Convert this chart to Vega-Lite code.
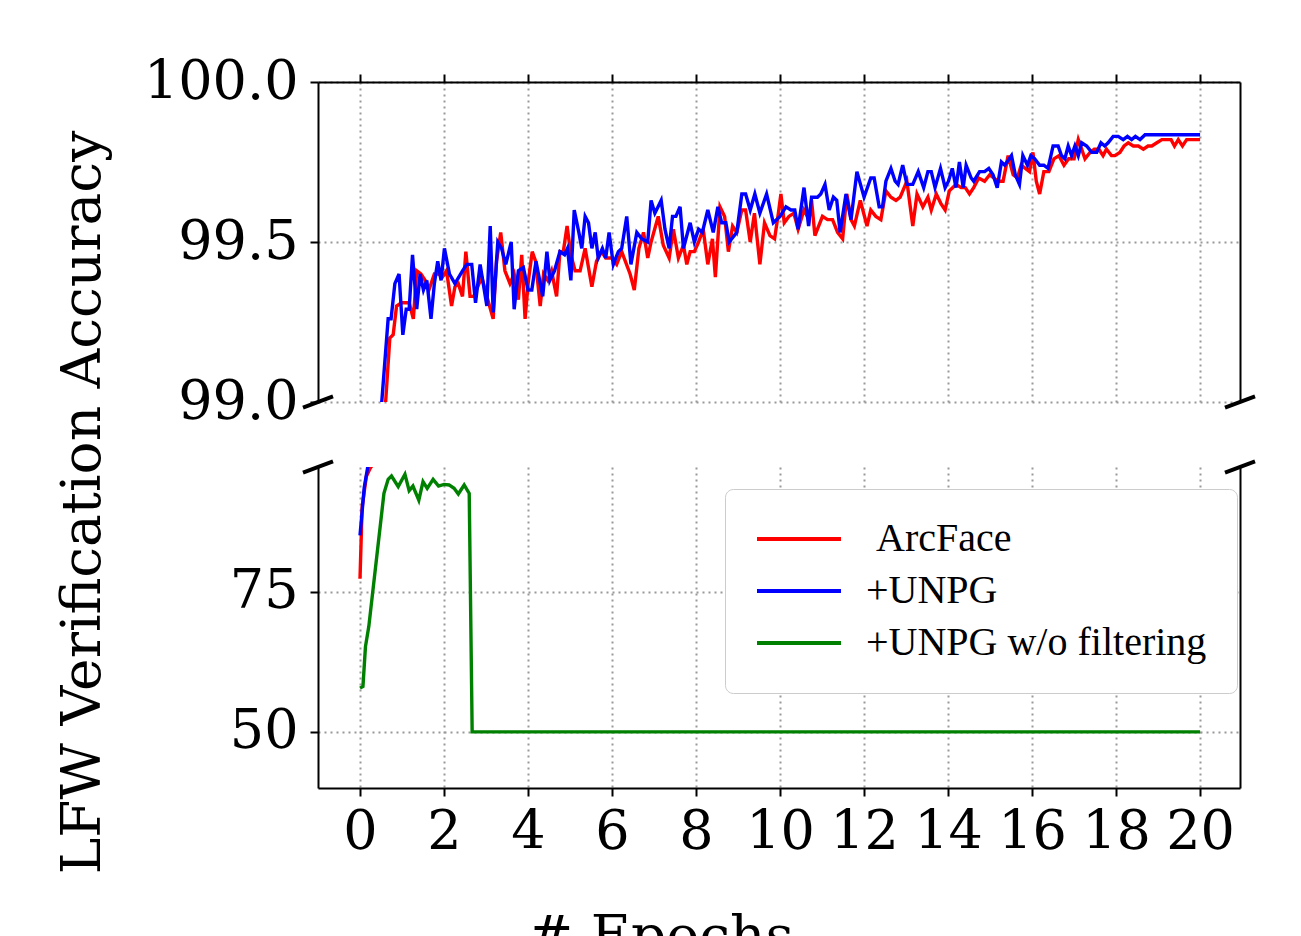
{
  "$schema": "https://vega.github.io/schema/vega-lite/v6.json",
  "autosize": {"type": "none"},
  "padding": {"left": 318, "top": 82, "right": 983, "bottom": 854},
  "background": "white",
  "bounds": "flush",
  "spacing": 65,
  "datasets": {
    "acc": [
      {"epoch": 0, "acc": 77.3, "series": "ArcFace"},
      {"epoch": 0.05, "acc": 90.0, "series": "ArcFace"},
      {"epoch": 0.15, "acc": 95.5, "series": "ArcFace"},
      {"epoch": 0.25, "acc": 97.1, "series": "ArcFace"},
      {"epoch": 0.35, "acc": 98.0, "series": "ArcFace"},
      {"epoch": 0.5, "acc": 98.85, "series": "ArcFace"},
      {"epoch": 0.6, "acc": 98.98, "series": "ArcFace"},
      {"epoch": 0.71, "acc": 99.20, "series": "ArcFace"},
      {"epoch": 0.79, "acc": 99.21, "series": "ArcFace"},
      {"epoch": 0.87, "acc": 99.30, "series": "ArcFace"},
      {"epoch": 0.99, "acc": 99.31, "series": "ArcFace"},
      {"epoch": 1.07, "acc": 99.31, "series": "ArcFace"},
      {"epoch": 1.17, "acc": 99.31, "series": "ArcFace"},
      {"epoch": 1.27, "acc": 99.26, "series": "ArcFace"},
      {"epoch": 1.35, "acc": 99.41, "series": "ArcFace"},
      {"epoch": 1.45, "acc": 99.40, "series": "ArcFace"},
      {"epoch": 1.55, "acc": 99.38, "series": "ArcFace"},
      {"epoch": 1.64, "acc": 99.35, "series": "ArcFace"},
      {"epoch": 1.77, "acc": 99.40, "series": "ArcFace"},
      {"epoch": 1.87, "acc": 99.40, "series": "ArcFace"},
      {"epoch": 1.96, "acc": 99.39, "series": "ArcFace"},
      {"epoch": 2.06, "acc": 99.41, "series": "ArcFace"},
      {"epoch": 2.18, "acc": 99.30, "series": "ArcFace"},
      {"epoch": 2.26, "acc": 99.36, "series": "ArcFace"},
      {"epoch": 2.34, "acc": 99.37, "series": "ArcFace"},
      {"epoch": 2.44, "acc": 99.33, "series": "ArcFace"},
      {"epoch": 2.52, "acc": 99.47, "series": "ArcFace"},
      {"epoch": 2.62, "acc": 99.33, "series": "ArcFace"},
      {"epoch": 2.71, "acc": 99.33, "series": "ArcFace"},
      {"epoch": 2.80, "acc": 99.36, "series": "ArcFace"},
      {"epoch": 2.90, "acc": 99.39, "series": "ArcFace"},
      {"epoch": 3.02, "acc": 99.33, "series": "ArcFace"},
      {"epoch": 3.17, "acc": 99.26, "series": "ArcFace"},
      {"epoch": 3.25, "acc": 99.44, "series": "ArcFace"},
      {"epoch": 3.35, "acc": 99.53, "series": "ArcFace"},
      {"epoch": 3.45, "acc": 99.41, "series": "ArcFace"},
      {"epoch": 3.57, "acc": 99.37, "series": "ArcFace"},
      {"epoch": 3.67, "acc": 99.40, "series": "ArcFace"},
      {"epoch": 3.77, "acc": 99.32, "series": "ArcFace"},
      {"epoch": 3.85, "acc": 99.46, "series": "ArcFace"},
      {"epoch": 3.93, "acc": 99.26, "series": "ArcFace"},
      {"epoch": 4.01, "acc": 99.38, "series": "ArcFace"},
      {"epoch": 4.10, "acc": 99.47, "series": "ArcFace"},
      {"epoch": 4.18, "acc": 99.44, "series": "ArcFace"},
      {"epoch": 4.29, "acc": 99.30, "series": "ArcFace"},
      {"epoch": 4.37, "acc": 99.40, "series": "ArcFace"},
      {"epoch": 4.47, "acc": 99.38, "series": "ArcFace"},
      {"epoch": 4.56, "acc": 99.41, "series": "ArcFace"},
      {"epoch": 4.68, "acc": 99.33, "series": "ArcFace"},
      {"epoch": 4.76, "acc": 99.47, "series": "ArcFace"},
      {"epoch": 4.84, "acc": 99.47, "series": "ArcFace"},
      {"epoch": 4.93, "acc": 99.55, "series": "ArcFace"},
      {"epoch": 5.02, "acc": 99.46, "series": "ArcFace"},
      {"epoch": 5.12, "acc": 99.41, "series": "ArcFace"},
      {"epoch": 5.24, "acc": 99.41, "series": "ArcFace"},
      {"epoch": 5.36, "acc": 99.48, "series": "ArcFace"},
      {"epoch": 5.52, "acc": 99.36, "series": "ArcFace"},
      {"epoch": 5.63, "acc": 99.44, "series": "ArcFace"},
      {"epoch": 5.75, "acc": 99.47, "series": "ArcFace"},
      {"epoch": 5.85, "acc": 99.45, "series": "ArcFace"},
      {"epoch": 5.99, "acc": 99.45, "series": "ArcFace"},
      {"epoch": 6.11, "acc": 99.43, "series": "ArcFace"},
      {"epoch": 6.23, "acc": 99.47, "series": "ArcFace"},
      {"epoch": 6.43, "acc": 99.40, "series": "ArcFace"},
      {"epoch": 6.53, "acc": 99.35, "series": "ArcFace"},
      {"epoch": 6.64, "acc": 99.48, "series": "ArcFace"},
      {"epoch": 6.75, "acc": 99.53, "series": "ArcFace"},
      {"epoch": 6.85, "acc": 99.45, "series": "ArcFace"},
      {"epoch": 6.93, "acc": 99.50, "series": "ArcFace"},
      {"epoch": 7.10, "acc": 99.58, "series": "ArcFace"},
      {"epoch": 7.22, "acc": 99.49, "series": "ArcFace"},
      {"epoch": 7.36, "acc": 99.45, "series": "ArcFace"},
      {"epoch": 7.46, "acc": 99.54, "series": "ArcFace"},
      {"epoch": 7.58, "acc": 99.45, "series": "ArcFace"},
      {"epoch": 7.70, "acc": 99.49, "series": "ArcFace"},
      {"epoch": 7.78, "acc": 99.43, "series": "ArcFace"},
      {"epoch": 7.86, "acc": 99.47, "series": "ArcFace"},
      {"epoch": 7.96, "acc": 99.47, "series": "ArcFace"},
      {"epoch": 8.06, "acc": 99.50, "series": "ArcFace"},
      {"epoch": 8.17, "acc": 99.54, "series": "ArcFace"},
      {"epoch": 8.28, "acc": 99.43, "series": "ArcFace"},
      {"epoch": 8.39, "acc": 99.51, "series": "ArcFace"},
      {"epoch": 8.46, "acc": 99.39, "series": "ArcFace"},
      {"epoch": 8.57, "acc": 99.61, "series": "ArcFace"},
      {"epoch": 8.68, "acc": 99.58, "series": "ArcFace"},
      {"epoch": 8.77, "acc": 99.47, "series": "ArcFace"},
      {"epoch": 8.87, "acc": 99.55, "series": "ArcFace"},
      {"epoch": 8.97, "acc": 99.53, "series": "ArcFace"},
      {"epoch": 9.09, "acc": 99.60, "series": "ArcFace"},
      {"epoch": 9.18, "acc": 99.60, "series": "ArcFace"},
      {"epoch": 9.29, "acc": 99.50, "series": "ArcFace"},
      {"epoch": 9.39, "acc": 99.59, "series": "ArcFace"},
      {"epoch": 9.52, "acc": 99.43, "series": "ArcFace"},
      {"epoch": 9.63, "acc": 99.56, "series": "ArcFace"},
      {"epoch": 9.76, "acc": 99.52, "series": "ArcFace"},
      {"epoch": 9.87, "acc": 99.51, "series": "ArcFace"},
      {"epoch": 9.96, "acc": 99.59, "series": "ArcFace"},
      {"epoch": 10.02, "acc": 99.65, "series": "ArcFace"},
      {"epoch": 10.10, "acc": 99.56, "series": "ArcFace"},
      {"epoch": 10.21, "acc": 99.58, "series": "ArcFace"},
      {"epoch": 10.33, "acc": 99.59, "series": "ArcFace"},
      {"epoch": 10.43, "acc": 99.54, "series": "ArcFace"},
      {"epoch": 10.57, "acc": 99.60, "series": "ArcFace"},
      {"epoch": 10.69, "acc": 99.57, "series": "ArcFace"},
      {"epoch": 10.75, "acc": 99.63, "series": "ArcFace"},
      {"epoch": 10.83, "acc": 99.52, "series": "ArcFace"},
      {"epoch": 11.01, "acc": 99.58, "series": "ArcFace"},
      {"epoch": 11.13, "acc": 99.57, "series": "ArcFace"},
      {"epoch": 11.25, "acc": 99.57, "series": "ArcFace"},
      {"epoch": 11.37, "acc": 99.53, "series": "ArcFace"},
      {"epoch": 11.49, "acc": 99.51, "series": "ArcFace"},
      {"epoch": 11.59, "acc": 99.65, "series": "ArcFace"},
      {"epoch": 11.69, "acc": 99.57, "series": "ArcFace"},
      {"epoch": 11.77, "acc": 99.55, "series": "ArcFace"},
      {"epoch": 11.91, "acc": 99.63, "series": "ArcFace"},
      {"epoch": 12.07, "acc": 99.55, "series": "ArcFace"},
      {"epoch": 12.16, "acc": 99.60, "series": "ArcFace"},
      {"epoch": 12.28, "acc": 99.58, "series": "ArcFace"},
      {"epoch": 12.40, "acc": 99.57, "series": "ArcFace"},
      {"epoch": 12.52, "acc": 99.66, "series": "ArcFace"},
      {"epoch": 12.64, "acc": 99.64, "series": "ArcFace"},
      {"epoch": 12.76, "acc": 99.63, "series": "ArcFace"},
      {"epoch": 12.86, "acc": 99.64, "series": "ArcFace"},
      {"epoch": 13.02, "acc": 99.69, "series": "ArcFace"},
      {"epoch": 13.16, "acc": 99.55, "series": "ArcFace"},
      {"epoch": 13.26, "acc": 99.65, "series": "ArcFace"},
      {"epoch": 13.40, "acc": 99.61, "series": "ArcFace"},
      {"epoch": 13.52, "acc": 99.64, "series": "ArcFace"},
      {"epoch": 13.60, "acc": 99.60, "series": "ArcFace"},
      {"epoch": 13.72, "acc": 99.65, "series": "ArcFace"},
      {"epoch": 13.83, "acc": 99.62, "series": "ArcFace"},
      {"epoch": 13.93, "acc": 99.60, "series": "ArcFace"},
      {"epoch": 14.03, "acc": 99.66, "series": "ArcFace"},
      {"epoch": 14.19, "acc": 99.68, "series": "ArcFace"},
      {"epoch": 14.31, "acc": 99.67, "series": "ArcFace"},
      {"epoch": 14.41, "acc": 99.67, "series": "ArcFace"},
      {"epoch": 14.51, "acc": 99.65, "series": "ArcFace"},
      {"epoch": 14.61, "acc": 99.67, "series": "ArcFace"},
      {"epoch": 14.73, "acc": 99.70, "series": "ArcFace"},
      {"epoch": 14.87, "acc": 99.69, "series": "ArcFace"},
      {"epoch": 14.99, "acc": 99.71, "series": "ArcFace"},
      {"epoch": 15.09, "acc": 99.70, "series": "ArcFace"},
      {"epoch": 15.19, "acc": 99.69, "series": "ArcFace"},
      {"epoch": 15.31, "acc": 99.69, "series": "ArcFace"},
      {"epoch": 15.43, "acc": 99.77, "series": "ArcFace"},
      {"epoch": 15.55, "acc": 99.71, "series": "ArcFace"},
      {"epoch": 15.65, "acc": 99.70, "series": "ArcFace"},
      {"epoch": 15.74, "acc": 99.74, "series": "ArcFace"},
      {"epoch": 15.84, "acc": 99.73, "series": "ArcFace"},
      {"epoch": 15.94, "acc": 99.72, "series": "ArcFace"},
      {"epoch": 16.02, "acc": 99.78, "series": "ArcFace"},
      {"epoch": 16.10, "acc": 99.69, "series": "ArcFace"},
      {"epoch": 16.18, "acc": 99.65, "series": "ArcFace"},
      {"epoch": 16.28, "acc": 99.72, "series": "ArcFace"},
      {"epoch": 16.40, "acc": 99.72, "series": "ArcFace"},
      {"epoch": 16.52, "acc": 99.76, "series": "ArcFace"},
      {"epoch": 16.64, "acc": 99.77, "series": "ArcFace"},
      {"epoch": 16.76, "acc": 99.74, "series": "ArcFace"},
      {"epoch": 16.87, "acc": 99.76, "series": "ArcFace"},
      {"epoch": 17.00, "acc": 99.76, "series": "ArcFace"},
      {"epoch": 17.10, "acc": 99.82, "series": "ArcFace"},
      {"epoch": 17.26, "acc": 99.76, "series": "ArcFace"},
      {"epoch": 17.38, "acc": 99.78, "series": "ArcFace"},
      {"epoch": 17.48, "acc": 99.79, "series": "ArcFace"},
      {"epoch": 17.59, "acc": 99.79, "series": "ArcFace"},
      {"epoch": 17.69, "acc": 99.77, "series": "ArcFace"},
      {"epoch": 17.77, "acc": 99.79, "series": "ArcFace"},
      {"epoch": 17.89, "acc": 99.77, "series": "ArcFace"},
      {"epoch": 17.97, "acc": 99.77, "series": "ArcFace"},
      {"epoch": 18.09, "acc": 99.78, "series": "ArcFace"},
      {"epoch": 18.19, "acc": 99.80, "series": "ArcFace"},
      {"epoch": 18.29, "acc": 99.81, "series": "ArcFace"},
      {"epoch": 18.41, "acc": 99.80, "series": "ArcFace"},
      {"epoch": 18.53, "acc": 99.80, "series": "ArcFace"},
      {"epoch": 18.65, "acc": 99.79, "series": "ArcFace"},
      {"epoch": 18.76, "acc": 99.80, "series": "ArcFace"},
      {"epoch": 18.85, "acc": 99.80, "series": "ArcFace"},
      {"epoch": 18.97, "acc": 99.81, "series": "ArcFace"},
      {"epoch": 19.09, "acc": 99.82, "series": "ArcFace"},
      {"epoch": 19.21, "acc": 99.82, "series": "ArcFace"},
      {"epoch": 19.31, "acc": 99.82, "series": "ArcFace"},
      {"epoch": 19.39, "acc": 99.80, "series": "ArcFace"},
      {"epoch": 19.48, "acc": 99.82, "series": "ArcFace"},
      {"epoch": 19.58, "acc": 99.80, "series": "ArcFace"},
      {"epoch": 19.68, "acc": 99.82, "series": "ArcFace"},
      {"epoch": 19.80, "acc": 99.82, "series": "ArcFace"},
      {"epoch": 20.0, "acc": 99.82, "series": "ArcFace"},

      {"epoch": 0, "acc": 85.0, "series": "+UNPG"},
      {"epoch": 0.1, "acc": 93.5, "series": "+UNPG"},
      {"epoch": 0.2, "acc": 97.9, "series": "+UNPG"},
      {"epoch": 0.3, "acc": 98.5, "series": "+UNPG"},
      {"epoch": 0.4, "acc": 98.8, "series": "+UNPG"},
      {"epoch": 0.5, "acc": 98.97, "series": "+UNPG"},
      {"epoch": 0.67, "acc": 99.26, "series": "+UNPG"},
      {"epoch": 0.74, "acc": 99.26, "series": "+UNPG"},
      {"epoch": 0.83, "acc": 99.37, "series": "+UNPG"},
      {"epoch": 0.93, "acc": 99.40, "series": "+UNPG"},
      {"epoch": 1.02, "acc": 99.21, "series": "+UNPG"},
      {"epoch": 1.10, "acc": 99.29, "series": "+UNPG"},
      {"epoch": 1.17, "acc": 99.29, "series": "+UNPG"},
      {"epoch": 1.25, "acc": 99.46, "series": "+UNPG"},
      {"epoch": 1.35, "acc": 99.29, "series": "+UNPG"},
      {"epoch": 1.43, "acc": 99.40, "series": "+UNPG"},
      {"epoch": 1.51, "acc": 99.35, "series": "+UNPG"},
      {"epoch": 1.59, "acc": 99.38, "series": "+UNPG"},
      {"epoch": 1.69, "acc": 99.26, "series": "+UNPG"},
      {"epoch": 1.77, "acc": 99.37, "series": "+UNPG"},
      {"epoch": 1.85, "acc": 99.44, "series": "+UNPG"},
      {"epoch": 1.93, "acc": 99.38, "series": "+UNPG"},
      {"epoch": 2.01, "acc": 99.48, "series": "+UNPG"},
      {"epoch": 2.13, "acc": 99.40, "series": "+UNPG"},
      {"epoch": 2.26, "acc": 99.37, "series": "+UNPG"},
      {"epoch": 2.44, "acc": 99.41, "series": "+UNPG"},
      {"epoch": 2.54, "acc": 99.43, "series": "+UNPG"},
      {"epoch": 2.66, "acc": 99.43, "series": "+UNPG"},
      {"epoch": 2.75, "acc": 99.31, "series": "+UNPG"},
      {"epoch": 2.86, "acc": 99.43, "series": "+UNPG"},
      {"epoch": 3.02, "acc": 99.30, "series": "+UNPG"},
      {"epoch": 3.10, "acc": 99.55, "series": "+UNPG"},
      {"epoch": 3.17, "acc": 99.28, "series": "+UNPG"},
      {"epoch": 3.28, "acc": 99.50, "series": "+UNPG"},
      {"epoch": 3.37, "acc": 99.48, "series": "+UNPG"},
      {"epoch": 3.47, "acc": 99.43, "series": "+UNPG"},
      {"epoch": 3.60, "acc": 99.50, "series": "+UNPG"},
      {"epoch": 3.67, "acc": 99.29, "series": "+UNPG"},
      {"epoch": 3.77, "acc": 99.41, "series": "+UNPG"},
      {"epoch": 3.89, "acc": 99.42, "series": "+UNPG"},
      {"epoch": 4.00, "acc": 99.35, "series": "+UNPG"},
      {"epoch": 4.09, "acc": 99.35, "series": "+UNPG"},
      {"epoch": 4.19, "acc": 99.44, "series": "+UNPG"},
      {"epoch": 4.35, "acc": 99.33, "series": "+UNPG"},
      {"epoch": 4.45, "acc": 99.47, "series": "+UNPG"},
      {"epoch": 4.52, "acc": 99.38, "series": "+UNPG"},
      {"epoch": 4.63, "acc": 99.41, "series": "+UNPG"},
      {"epoch": 4.76, "acc": 99.47, "series": "+UNPG"},
      {"epoch": 4.87, "acc": 99.46, "series": "+UNPG"},
      {"epoch": 4.94, "acc": 99.48, "series": "+UNPG"},
      {"epoch": 5.02, "acc": 99.38, "series": "+UNPG"},
      {"epoch": 5.10, "acc": 99.60, "series": "+UNPG"},
      {"epoch": 5.21, "acc": 99.53, "series": "+UNPG"},
      {"epoch": 5.28, "acc": 99.48, "series": "+UNPG"},
      {"epoch": 5.36, "acc": 99.58, "series": "+UNPG"},
      {"epoch": 5.44, "acc": 99.56, "series": "+UNPG"},
      {"epoch": 5.52, "acc": 99.48, "series": "+UNPG"},
      {"epoch": 5.60, "acc": 99.53, "series": "+UNPG"},
      {"epoch": 5.67, "acc": 99.45, "series": "+UNPG"},
      {"epoch": 5.77, "acc": 99.48, "series": "+UNPG"},
      {"epoch": 5.85, "acc": 99.45, "series": "+UNPG"},
      {"epoch": 5.93, "acc": 99.53, "series": "+UNPG"},
      {"epoch": 6.03, "acc": 99.43, "series": "+UNPG"},
      {"epoch": 6.15, "acc": 99.47, "series": "+UNPG"},
      {"epoch": 6.23, "acc": 99.48, "series": "+UNPG"},
      {"epoch": 6.35, "acc": 99.58, "series": "+UNPG"},
      {"epoch": 6.45, "acc": 99.43, "series": "+UNPG"},
      {"epoch": 6.59, "acc": 99.53, "series": "+UNPG"},
      {"epoch": 6.71, "acc": 99.51, "series": "+UNPG"},
      {"epoch": 6.85, "acc": 99.50, "series": "+UNPG"},
      {"epoch": 6.93, "acc": 99.63, "series": "+UNPG"},
      {"epoch": 7.02, "acc": 99.59, "series": "+UNPG"},
      {"epoch": 7.17, "acc": 99.63, "series": "+UNPG"},
      {"epoch": 7.26, "acc": 99.54, "series": "+UNPG"},
      {"epoch": 7.36, "acc": 99.48, "series": "+UNPG"},
      {"epoch": 7.44, "acc": 99.58, "series": "+UNPG"},
      {"epoch": 7.52, "acc": 99.58, "series": "+UNPG"},
      {"epoch": 7.62, "acc": 99.61, "series": "+UNPG"},
      {"epoch": 7.70, "acc": 99.48, "series": "+UNPG"},
      {"epoch": 7.86, "acc": 99.56, "series": "+UNPG"},
      {"epoch": 7.96, "acc": 99.50, "series": "+UNPG"},
      {"epoch": 8.06, "acc": 99.54, "series": "+UNPG"},
      {"epoch": 8.15, "acc": 99.53, "series": "+UNPG"},
      {"epoch": 8.28, "acc": 99.60, "series": "+UNPG"},
      {"epoch": 8.41, "acc": 99.53, "series": "+UNPG"},
      {"epoch": 8.52, "acc": 99.61, "series": "+UNPG"},
      {"epoch": 8.61, "acc": 99.56, "series": "+UNPG"},
      {"epoch": 8.71, "acc": 99.56, "series": "+UNPG"},
      {"epoch": 8.79, "acc": 99.50, "series": "+UNPG"},
      {"epoch": 8.97, "acc": 99.53, "series": "+UNPG"},
      {"epoch": 9.09, "acc": 99.65, "series": "+UNPG"},
      {"epoch": 9.18, "acc": 99.65, "series": "+UNPG"},
      {"epoch": 9.29, "acc": 99.60, "series": "+UNPG"},
      {"epoch": 9.40, "acc": 99.65, "series": "+UNPG"},
      {"epoch": 9.52, "acc": 99.59, "series": "+UNPG"},
      {"epoch": 9.68, "acc": 99.65, "series": "+UNPG"},
      {"epoch": 9.84, "acc": 99.56, "series": "+UNPG"},
      {"epoch": 10.00, "acc": 99.58, "series": "+UNPG"},
      {"epoch": 10.14, "acc": 99.61, "series": "+UNPG"},
      {"epoch": 10.26, "acc": 99.60, "series": "+UNPG"},
      {"epoch": 10.35, "acc": 99.60, "series": "+UNPG"},
      {"epoch": 10.43, "acc": 99.54, "series": "+UNPG"},
      {"epoch": 10.57, "acc": 99.67, "series": "+UNPG"},
      {"epoch": 10.68, "acc": 99.55, "series": "+UNPG"},
      {"epoch": 10.75, "acc": 99.64, "series": "+UNPG"},
      {"epoch": 10.89, "acc": 99.64, "series": "+UNPG"},
      {"epoch": 10.97, "acc": 99.65, "series": "+UNPG"},
      {"epoch": 11.07, "acc": 99.68, "series": "+UNPG"},
      {"epoch": 11.17, "acc": 99.60, "series": "+UNPG"},
      {"epoch": 11.27, "acc": 99.64, "series": "+UNPG"},
      {"epoch": 11.35, "acc": 99.63, "series": "+UNPG"},
      {"epoch": 11.43, "acc": 99.53, "series": "+UNPG"},
      {"epoch": 11.57, "acc": 99.65, "series": "+UNPG"},
      {"epoch": 11.69, "acc": 99.57, "series": "+UNPG"},
      {"epoch": 11.83, "acc": 99.72, "series": "+UNPG"},
      {"epoch": 12.00, "acc": 99.64, "series": "+UNPG"},
      {"epoch": 12.16, "acc": 99.70, "series": "+UNPG"},
      {"epoch": 12.24, "acc": 99.70, "series": "+UNPG"},
      {"epoch": 12.36, "acc": 99.61, "series": "+UNPG"},
      {"epoch": 12.44, "acc": 99.61, "series": "+UNPG"},
      {"epoch": 12.52, "acc": 99.69, "series": "+UNPG"},
      {"epoch": 12.64, "acc": 99.73, "series": "+UNPG"},
      {"epoch": 12.74, "acc": 99.69, "series": "+UNPG"},
      {"epoch": 12.81, "acc": 99.68, "series": "+UNPG"},
      {"epoch": 12.92, "acc": 99.74, "series": "+UNPG"},
      {"epoch": 13.02, "acc": 99.68, "series": "+UNPG"},
      {"epoch": 13.16, "acc": 99.68, "series": "+UNPG"},
      {"epoch": 13.29, "acc": 99.72, "series": "+UNPG"},
      {"epoch": 13.42, "acc": 99.67, "series": "+UNPG"},
      {"epoch": 13.52, "acc": 99.72, "series": "+UNPG"},
      {"epoch": 13.60, "acc": 99.72, "series": "+UNPG"},
      {"epoch": 13.69, "acc": 99.67, "series": "+UNPG"},
      {"epoch": 13.82, "acc": 99.73, "series": "+UNPG"},
      {"epoch": 13.93, "acc": 99.67, "series": "+UNPG"},
      {"epoch": 14.01, "acc": 99.69, "series": "+UNPG"},
      {"epoch": 14.10, "acc": 99.73, "series": "+UNPG"},
      {"epoch": 14.19, "acc": 99.67, "series": "+UNPG"},
      {"epoch": 14.27, "acc": 99.75, "series": "+UNPG"},
      {"epoch": 14.36, "acc": 99.67, "series": "+UNPG"},
      {"epoch": 14.43, "acc": 99.74, "series": "+UNPG"},
      {"epoch": 14.55, "acc": 99.70, "series": "+UNPG"},
      {"epoch": 14.61, "acc": 99.69, "series": "+UNPG"},
      {"epoch": 14.75, "acc": 99.72, "series": "+UNPG"},
      {"epoch": 14.87, "acc": 99.72, "series": "+UNPG"},
      {"epoch": 14.97, "acc": 99.73, "series": "+UNPG"},
      {"epoch": 15.07, "acc": 99.71, "series": "+UNPG"},
      {"epoch": 15.17, "acc": 99.67, "series": "+UNPG"},
      {"epoch": 15.27, "acc": 99.75, "series": "+UNPG"},
      {"epoch": 15.35, "acc": 99.74, "series": "+UNPG"},
      {"epoch": 15.51, "acc": 99.77, "series": "+UNPG"},
      {"epoch": 15.60, "acc": 99.71, "series": "+UNPG"},
      {"epoch": 15.70, "acc": 99.68, "series": "+UNPG"},
      {"epoch": 15.78, "acc": 99.77, "series": "+UNPG"},
      {"epoch": 15.89, "acc": 99.74, "series": "+UNPG"},
      {"epoch": 15.97, "acc": 99.77, "series": "+UNPG"},
      {"epoch": 16.06, "acc": 99.76, "series": "+UNPG"},
      {"epoch": 16.18, "acc": 99.74, "series": "+UNPG"},
      {"epoch": 16.28, "acc": 99.74, "series": "+UNPG"},
      {"epoch": 16.38, "acc": 99.73, "series": "+UNPG"},
      {"epoch": 16.50, "acc": 99.80, "series": "+UNPG"},
      {"epoch": 16.62, "acc": 99.80, "series": "+UNPG"},
      {"epoch": 16.70, "acc": 99.77, "series": "+UNPG"},
      {"epoch": 16.78, "acc": 99.76, "series": "+UNPG"},
      {"epoch": 16.86, "acc": 99.80, "series": "+UNPG"},
      {"epoch": 16.94, "acc": 99.77, "series": "+UNPG"},
      {"epoch": 17.02, "acc": 99.80, "series": "+UNPG"},
      {"epoch": 17.10, "acc": 99.77, "series": "+UNPG"},
      {"epoch": 17.18, "acc": 99.81, "series": "+UNPG"},
      {"epoch": 17.30, "acc": 99.80, "series": "+UNPG"},
      {"epoch": 17.42, "acc": 99.78, "series": "+UNPG"},
      {"epoch": 17.54, "acc": 99.78, "series": "+UNPG"},
      {"epoch": 17.64, "acc": 99.81, "series": "+UNPG"},
      {"epoch": 17.73, "acc": 99.80, "series": "+UNPG"},
      {"epoch": 17.81, "acc": 99.81, "series": "+UNPG"},
      {"epoch": 17.93, "acc": 99.83, "series": "+UNPG"},
      {"epoch": 18.05, "acc": 99.83, "series": "+UNPG"},
      {"epoch": 18.17, "acc": 99.82, "series": "+UNPG"},
      {"epoch": 18.27, "acc": 99.83, "series": "+UNPG"},
      {"epoch": 18.37, "acc": 99.82, "series": "+UNPG"},
      {"epoch": 18.46, "acc": 99.83, "series": "+UNPG"},
      {"epoch": 18.57, "acc": 99.82, "series": "+UNPG"},
      {"epoch": 18.69, "acc": 99.835, "series": "+UNPG"},
      {"epoch": 20.0, "acc": 99.835, "series": "+UNPG"},

      {"epoch": 0, "acc": 57.8, "series": "+UNPG w/o filtering"},
      {"epoch": 0.07, "acc": 58.1, "series": "+UNPG w/o filtering"},
      {"epoch": 0.13, "acc": 65.2, "series": "+UNPG w/o filtering"},
      {"epoch": 0.21, "acc": 68.8, "series": "+UNPG w/o filtering"},
      {"epoch": 0.57, "acc": 92.5, "series": "+UNPG w/o filtering"},
      {"epoch": 0.67, "acc": 95.0, "series": "+UNPG w/o filtering"},
      {"epoch": 0.75, "acc": 95.6, "series": "+UNPG w/o filtering"},
      {"epoch": 0.91, "acc": 93.7, "series": "+UNPG w/o filtering"},
      {"epoch": 1.07, "acc": 95.9, "series": "+UNPG w/o filtering"},
      {"epoch": 1.17, "acc": 93.0, "series": "+UNPG w/o filtering"},
      {"epoch": 1.26, "acc": 93.8, "series": "+UNPG w/o filtering"},
      {"epoch": 1.40, "acc": 91.3, "series": "+UNPG w/o filtering"},
      {"epoch": 1.50, "acc": 94.6, "series": "+UNPG w/o filtering"},
      {"epoch": 1.60, "acc": 93.4, "series": "+UNPG w/o filtering"},
      {"epoch": 1.74, "acc": 95.0, "series": "+UNPG w/o filtering"},
      {"epoch": 1.87, "acc": 93.8, "series": "+UNPG w/o filtering"},
      {"epoch": 2.00, "acc": 94.1, "series": "+UNPG w/o filtering"},
      {"epoch": 2.12, "acc": 94.0, "series": "+UNPG w/o filtering"},
      {"epoch": 2.24, "acc": 93.4, "series": "+UNPG w/o filtering"},
      {"epoch": 2.34, "acc": 92.4, "series": "+UNPG w/o filtering"},
      {"epoch": 2.48, "acc": 94.0, "series": "+UNPG w/o filtering"},
      {"epoch": 2.60, "acc": 92.5, "series": "+UNPG w/o filtering"},
      {"epoch": 2.67, "acc": 50.0, "series": "+UNPG w/o filtering"},
      {"epoch": 20.0, "acc": 50.0, "series": "+UNPG w/o filtering"}
    ]
  },
  "data": {"name": "acc"},
  "vconcat": [
    {
      "width": 922,
      "height": 320,
      "layer": [
        {
          "layer": [
            {"transform": [{"filter": {"field": "series", "equal": "ArcFace"}}], "mark": {"type": "line", "clip": true, "strokeWidth": 3.4}},
            {"transform": [{"filter": {"field": "series", "equal": "+UNPG"}}], "mark": {"type": "line", "clip": true, "strokeWidth": 3.4}},
            {"transform": [{"filter": {"field": "series", "equal": "+UNPG w/o filtering"}}], "mark": {"type": "line", "clip": true, "strokeWidth": 3.4}}
          ],
          "encoding": {
            "x": {"field": "epoch", "type": "quantitative", "scale": {"domain": [-1, 20.95], "nice": false, "zero": false},
                  "axis": {"orient": "top", "values": [0, 2, 4, 6, 8, 10, 12, 14, 16, 18, 20], "labels": false, "grid": true, "title": null}},
            "y": {"field": "acc", "type": "quantitative", "scale": {"domain": [99, 100], "nice": false, "zero": false},
                  "axis": {"orient": "left", "values": [99, 99.5, 100], "format": ".1f", "grid": true, "labelPadding": 12,
                           "title": "LFW Verification Accuracy", "titleX": -219, "titleY": 420, "titleAngle": -90,
                           "titleAlign": "center", "titleBaseline": "alphabetic", "titleFont": "DejaVu Serif", "titleFontSize": 55}},
            "color": {"field": "series", "type": "nominal",
                      "scale": {"domain": ["ArcFace", "+UNPG", "+UNPG w/o filtering"], "range": ["#ff0000", "#0000ff", "#008000"]},
                      "legend": null}
          }
        },
        {
          "data": {"values": [{}]},
          "mark": {"type": "point", "shape": "M-1,0.37L1,-0.37", "size": 900, "filled": false, "strokeWidth": 4, "color": "black", "opacity": 1},
          "encoding": {"x": {"datum": -1, "axis": null}, "y": {"datum": 99, "axis": null}}
        },
        {
          "data": {"values": [{}]},
          "mark": {"type": "point", "shape": "M-1,0.37L1,-0.37", "size": 900, "filled": false, "strokeWidth": 4, "color": "black", "opacity": 1},
          "encoding": {"x": {"datum": 20.95, "axis": null},
                       "y": {"datum": 99, "axis": {"orient": "right", "ticks": false, "labels": false, "grid": false, "title": null}}}
        }
      ],
      "resolve": {"axis": {"x": "independent", "y": "independent"}}
    },
    {
      "width": 922,
      "height": 321,
      "layer": [
        {
          "layer": [
            {"transform": [{"filter": {"field": "series", "equal": "ArcFace"}}], "mark": {"type": "line", "clip": true, "strokeWidth": 3.4}},
            {"transform": [{"filter": {"field": "series", "equal": "+UNPG"}}], "mark": {"type": "line", "clip": true, "strokeWidth": 3.4}},
            {"transform": [{"filter": {"field": "series", "equal": "+UNPG w/o filtering"}}], "mark": {"type": "line", "clip": true, "strokeWidth": 3.4}}
          ],
          "encoding": {
            "x": {"field": "epoch", "type": "quantitative", "scale": {"domain": [-1, 20.95], "nice": false, "zero": false},
                  "axis": {"orient": "bottom", "values": [0, 2, 4, 6, 8, 10, 12, 14, 16, 18, 20], "grid": true, "labelPadding": 9,
                           "title": "# Epochs", "titleX": 342, "titleY": 165, "titleAlign": "center", "titleBaseline": "alphabetic",
                           "titleFont": "DejaVu Serif", "titleFontSize": 55}},
            "y": {"field": "acc", "type": "quantitative", "scale": {"domain": [40, 97.2], "nice": false, "zero": false},
                  "axis": {"orient": "left", "values": [50, 75], "format": "d", "grid": true, "labelPadding": 12, "title": null}},
            "color": {"field": "series", "type": "nominal",
                      "scale": {"domain": ["ArcFace", "+UNPG", "+UNPG w/o filtering"], "range": ["#ff0000", "#0000ff", "#008000"]},
                      "legend": {"orient": "none", "legendX": 407, "legendY": 22, "title": null,
                                 "symbolType": "stroke", "symbolSize": 7056, "symbolStrokeWidth": 4,
                                 "clipHeight": 40,
                                 "labelFont": "Liberation Serif", "labelFontSize": 40, "labelColor": "black",
                                 "labelOffset": 23, "labelLimit": 1000, "padding": 30, "rowPadding": 12,
                                 "fillColor": "white", "strokeColor": "#cccccc", "cornerRadius": 8,
                                 "labelExpr": "datum.label === 'ArcFace' ? '\u200b\u00a0ArcFace' : datum.label"}}
          }
        },
        {
          "data": {"values": [{}]},
          "mark": {"type": "point", "shape": "M-1,0.37L1,-0.37", "size": 900, "filled": false, "strokeWidth": 4, "color": "black", "opacity": 1},
          "encoding": {"x": {"datum": -1, "axis": null}, "y": {"datum": 97.2, "axis": null}}
        },
        {
          "data": {"values": [{}]},
          "mark": {"type": "point", "shape": "M-1,0.37L1,-0.37", "size": 900, "filled": false, "strokeWidth": 4, "color": "black", "opacity": 1},
          "encoding": {"x": {"datum": 20.95, "axis": null},
                       "y": {"datum": 97.2, "axis": {"orient": "right", "ticks": false, "labels": false, "grid": false, "title": null}}}
        }
      ],
      "resolve": {"axis": {"x": "independent", "y": "independent"}}
    }
  ],
  "resolve": {"scale": {"color": "independent"}, "legend": {"color": "independent"}},
  "config": {
    "view": {"stroke": null},
    "axis": {
      "domainColor": "black", "domainWidth": 2,
      "tickColor": "black", "tickWidth": 2, "tickSize": 8,
      "labelFont": "DejaVu Serif", "labelFontSize": 54, "labelColor": "black",
      "labelFlush": false, "labelOverlap": false,
      "titleColor": "black", "titleFontWeight": "normal",
      "gridColor": "#999999", "gridDash": [2, 4], "gridWidth": 2, "gridOpacity": 1
    }
  }
}
